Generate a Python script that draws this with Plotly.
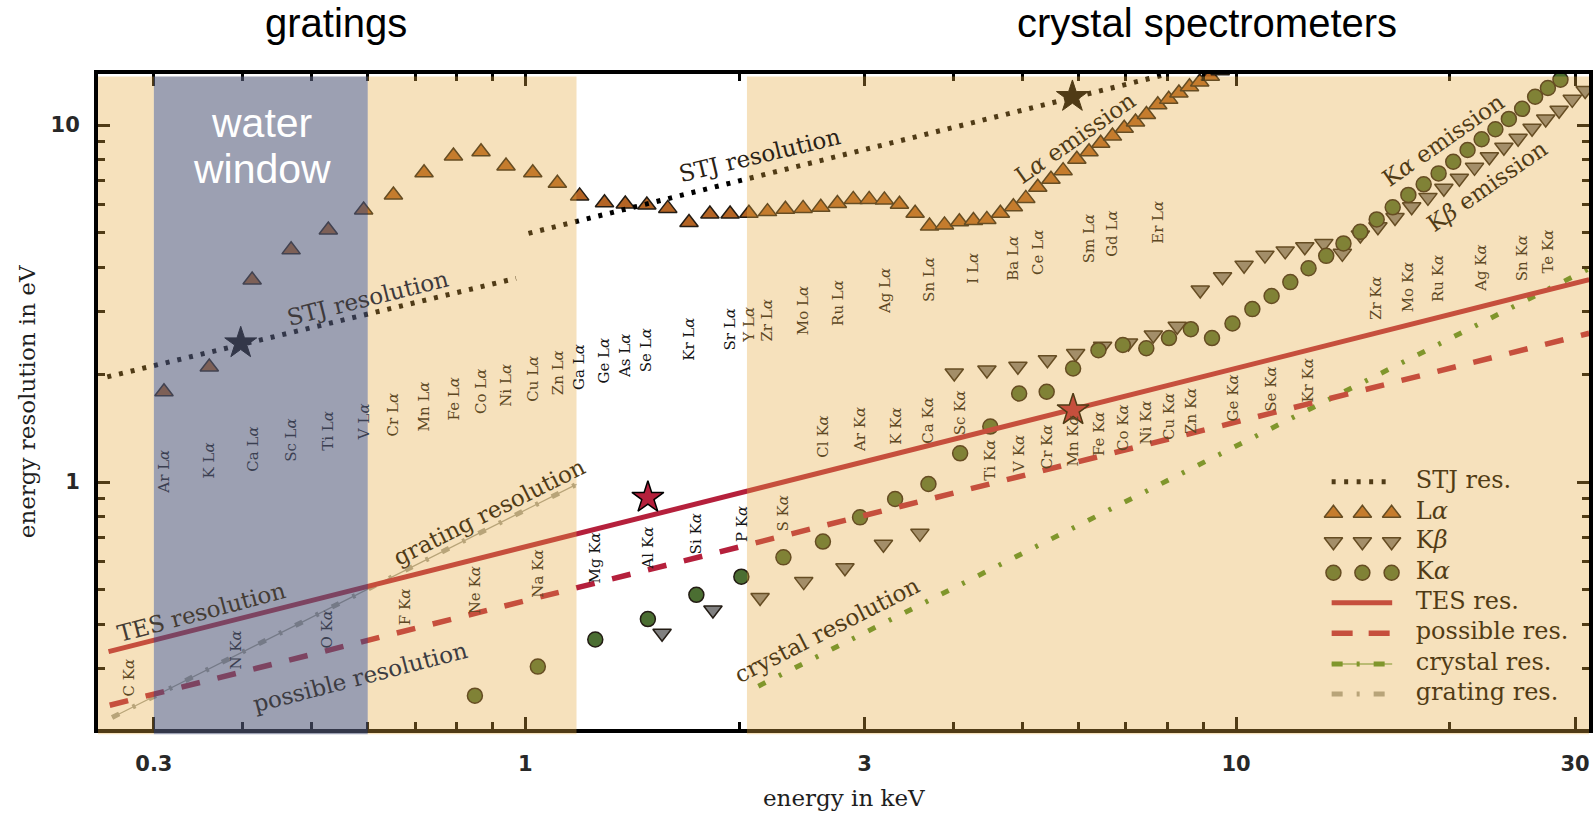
import math
import plotly.graph_objects as go

# ---------------- emission lines: energy (keV) and natural line width (eV) ----------------
la_elements = ["Ar", "K", "Ca", "Sc", "Ti", "V", "Cr", "Mn", "Fe", "Co",
               "Ni", "Cu", "Zn", "Ga", "Ge", "As", "Se", "Br", "Kr", "Rb",
               "Sr", "Y", "Zr", "Nb", "Mo", "Tc", "Ru", "Rh", "Pd", "Ag",
               "Cd", "In", "Sn", "Sb", "Te", "I", "Xe", "Cs", "Ba", "La",
               "Ce", "Pr", "Nd", "Pm", "Sm", "Eu", "Gd", "Tb", "Dy", "Ho",
               "Er", "Tm", "Yb", "Lu", "Hf", "Ta", "W"]
la_energy = [0.310, 0.359, 0.4125, 0.468, 0.528, 0.592, 0.652, 0.720, 0.792, 0.866,
             0.939, 1.024, 1.109, 1.192, 1.292, 1.382, 1.482, 1.586, 1.699, 1.818,
             1.941, 2.063, 2.191, 2.322, 2.459, 2.604, 2.748, 2.893, 3.046, 3.200,
             3.360, 3.535, 3.704, 3.888, 4.080, 4.270, 4.460, 4.660, 4.860, 5.060,
             5.260, 5.490, 5.710, 5.970, 6.210, 6.450, 6.700, 6.960, 7.220, 7.480,
             7.760, 8.040, 8.310, 8.600, 8.890, 9.200, 9.500]
la_width = [1.79, 2.10, 3.68, 4.47, 5.08, 5.78, 6.37, 7.35, 8.19, 8.42,
            7.68, 7.35, 6.87, 6.33, 6.06, 6.01, 5.97, 5.84, 5.33, 5.63,
            5.63, 5.66, 5.72, 5.81, 5.84, 5.88, 6.03, 6.19, 6.19, 6.17,
            6.00, 5.66, 5.21, 5.25, 5.36, 5.40, 5.44, 5.66, 5.90, 6.23,
            6.69, 7.05, 7.45, 8.02, 8.42, 8.89, 9.31, 9.79, 10.2, 10.7,
            11.4, 11.8, 12.3, 12.8, 13.2, 13.7, 14.2]

ka_elements = ["Ne", "Na", "Mg", "Al", "Si", "P", "S", "Cl", "Ar", "K",
               "Ca", "Sc", "Ti", "V", "Cr", "Mn", "Fe", "Co", "Ni", "Cu",
               "Zn", "Ga", "Ge", "As", "Se", "Br", "Kr", "Rb", "Sr", "Y",
               "Zr", "Nb", "Mo", "Tc", "Ru", "Rh", "Pd", "Ag", "Cd", "In",
               "Sn", "Sb", "Te", "I"]
ka_energy = [0.849, 1.041, 1.254, 1.487, 1.740, 2.013, 2.307, 2.622, 2.957, 3.313,
             3.691, 4.090, 4.510, 4.952, 5.414, 5.898, 6.403, 6.930, 7.477, 8.047,
             8.638, 9.251, 9.885, 10.543, 11.221, 11.923, 12.648, 13.394, 14.164, 14.957,
             15.774, 16.614, 17.478, 18.367, 19.278, 20.214, 21.175, 22.162, 23.172, 24.207,
             25.270, 26.357, 27.471, 28.610]
ka_width = [0.252, 0.304, 0.362, 0.413, 0.483, 0.543, 0.615, 0.681, 0.796, 0.896,
            0.987, 1.203, 1.43, 1.77, 1.79, 2.08, 2.34, 2.42, 2.37, 2.53,
            2.68, 2.53, 2.78, 3.05, 3.32, 3.63, 3.97, 4.30, 4.66, 5.02,
            5.44, 5.88, 6.37, 6.82, 7.32, 7.89, 8.51, 9.12, 9.73, 10.4,
            11.1, 12.0, 12.7, 13.4]

kb_elements = ["Al", "Si", "P", "S", "Cl", "Ar", "K", "Ca", "Sc", "Ti",
               "V", "Cr", "Mn", "Fe", "Co", "Ni", "Cu", "Zn", "Ga", "Ge",
               "As", "Se", "Br", "Kr", "Rb", "Sr", "Y", "Zr", "Nb", "Mo",
               "Tc", "Ru", "Rh", "Pd", "Ag", "Cd", "In", "Sn", "Sb", "Te"]
kb_energy = [1.557, 1.836, 2.139, 2.464, 2.816, 3.190, 3.590, 4.013, 4.461, 4.932,
             5.427, 5.947, 6.490, 7.058, 7.649, 8.265, 8.905, 9.572, 10.264, 10.982,
             11.726, 12.496, 13.291, 14.112, 14.961, 15.836, 16.738, 17.668, 18.623, 19.608,
             20.619, 21.657, 22.724, 23.819, 24.942, 26.096, 27.276, 28.486, 29.726, 30.996]
kb_width = [0.377, 0.438, 0.475, 0.526, 0.575, 0.669, 0.718, 2.02, 2.06, 2.11,
            2.20, 2.29, 2.40, 2.45, 2.58, 2.73, 3.45, 3.76, 4.05, 4.32,
            4.44, 4.56, 4.66, 4.37, 4.92, 5.19, 5.51, 5.90, 6.27, 6.65,
            7.09, 7.61, 8.15, 8.66, 9.18, 9.79, 10.4, 11.0, 11.8, 12.5]

# ---------------- detector / spectrometer resolution (eV) ----------------
stj_low_energy = [0.258, 0.97]
stj_low_res = [1.97, 3.72]
stj_high_energy = [1.01, 7.9]
stj_high_res = [4.97, 13.8]
tes_energy = [0.259, 31.4]
tes_res = [0.335, 3.69]
possible_energy = [0.26, 31.4]
possible_res = [0.237, 2.61]
crystal_energy = [2.127, 31.4]
crystal_res = [0.268, 3.96]
grating_energy = [0.262, 1.18]
grating_res = [0.219, 0.985]

# highlighted operating points
stj_star_energy = [0.3975, 5.885]
stj_star_res = [2.45, 12.0]
tes_star_energy = [1.487, 5.898]
tes_star_res = [0.904, 1.59]

# labelled lines
la_labels = ["Ar", "K", "Ca", "Sc", "Ti", "V", "Cr", "Mn", "Fe", "Co", "Ni", "Cu", "Zn",
             "Ga", "Ge", "As", "Se", "Kr", "Sr", "Y", "Zr", "Mo", "Ru", "Ag", "Sn", "I",
             "Ba", "Ce", "Sm", "Gd", "Er"]
ka_labels = ["C", "N", "O", "F", "Ne", "Na", "Mg", "Al", "Si", "P", "S", "Cl", "Ar", "K",
             "Ca", "Sc", "Ti", "V", "Cr", "Mn", "Fe", "Co", "Ni", "Cu", "Zn", "Ge", "Se",
             "Kr", "Zr", "Mo", "Ru", "Ag", "Sn", "Te"]
ka_label_energy = [0.277, 0.392, 0.525, 0.677, 0.849, 1.041, 1.254, 1.487, 1.740, 2.013,
                   2.307, 2.622, 2.957, 3.313, 3.691, 4.090, 4.510, 4.952, 5.414, 5.898,
                   6.403, 6.930, 7.477, 8.047, 8.638, 9.885, 11.221, 12.648, 15.774, 17.478,
                   19.278, 22.162, 25.270, 27.471]
ka_label_height = [0.284, 0.338, 0.385, 0.446, 0.497, 0.553, 0.612, 0.655, 0.715, 0.764,
                   0.818, 1.339, 1.398, 1.43, 1.49, 1.56, 1.15, 1.20, 1.256, 1.30,
                   1.366, 1.425, 1.47, 1.53, 1.58, 1.72, 1.82, 1.93, 3.27, 3.52,
                   3.72, 3.97, 4.24, 4.42]

# ---------------- styling ----------------
SERIF = "DejaVu Serif"
SANS = "Liberation Sans"
X_RANGE = [-0.6015, 1.4967]
Y_RANGE = [-0.6919, 1.1429]
X_LEFT, X_RIGHT = 10 ** X_RANGE[0], 10 ** X_RANGE[1]

WHEAT_RGB, WHEAT_A = (229, 169, 64), 0.35
WATER_RGB, WATER_A = (86, 93, 124), 0.59
WATER_LO, WATER_HI = 0.3, 0.6
CLEAR_LO, CLEAR_HI = 1.18, 2.05

LA_FILL = "rgb(180,100,36)"
KB_FILL = "rgb(128,128,128)"
KA_FILL = "rgb(75,110,50)"
EDGE = "rgb(35,28,20)"
TES_RED = "rgb(181,32,60)"
CRYSTAL_GREEN = "rgb(75,140,35)"
GRATING_GREY = "rgb(160,162,152)"

DOT = "4px,8px"
DASH = "19px,18px"
DASHDOT = "8px,15px,3px,15px"
MARK = 16


def tint(rgb, energy):
    """Colour of a text drawn under the shaded energy bands."""
    if WATER_LO <= energy <= WATER_HI:
        over, a = WATER_RGB, WATER_A
    elif CLEAR_LO <= energy <= CLEAR_HI:
        return "rgb(%d,%d,%d)" % rgb
    else:
        over, a = WHEAT_RGB, WHEAT_A
    return "rgb(%d,%d,%d)" % tuple(round(c * (1 - a) + o * a) for c, o in zip(rgb, over))


fig = go.Figure()

# resolution curves (thin connector + dash-dot for the grating)
fig.add_trace(go.Scatter(x=grating_energy, y=grating_res, mode="lines",
                         line=dict(color=GRATING_GREY, width=1.2)))
fig.add_trace(go.Scatter(x=grating_energy, y=grating_res, mode="lines",
                         line=dict(color=GRATING_GREY, width=5, dash=DASHDOT)))
fig.add_trace(go.Scatter(x=crystal_energy, y=crystal_res, mode="lines",
                         line=dict(color=CRYSTAL_GREEN, width=5, dash=DASHDOT)))

# emission line widths
fig.add_trace(go.Scatter(x=kb_energy, y=kb_width, mode="markers",
                         marker=dict(symbol="triangle-down", size=MARK, color=KB_FILL,
                                     line=dict(color=EDGE, width=1.5))))
fig.add_trace(go.Scatter(x=ka_energy, y=ka_width, mode="markers",
                         marker=dict(symbol="circle", size=15, color=KA_FILL,
                                     line=dict(color=EDGE, width=1.5))))
fig.add_trace(go.Scatter(x=la_energy, y=la_width, mode="markers",
                         marker=dict(symbol="triangle-up", size=MARK, color=LA_FILL,
                                     line=dict(color=EDGE, width=1.5))))

fig.add_trace(go.Scatter(x=possible_energy, y=possible_res, mode="lines",
                         line=dict(color=TES_RED, width=5.5, dash=DASH)))
fig.add_trace(go.Scatter(x=tes_energy, y=tes_res, mode="lines",
                         line=dict(color=TES_RED, width=5)))
for xs, ys in ((stj_low_energy, stj_low_res), (stj_high_energy, stj_high_res)):
    fig.add_trace(go.Scatter(x=xs, y=ys, mode="lines",
                             line=dict(color="black", width=5, dash=DOT)))

fig.add_trace(go.Scatter(x=stj_star_energy, y=stj_star_res, mode="markers",
                         marker=dict(symbol="star", size=24, color="black",
                                     line=dict(color="black", width=1))))
fig.add_trace(go.Scatter(x=tes_star_energy, y=tes_star_res, mode="markers",
                         marker=dict(symbol="star", size=24, color=TES_RED,
                                     line=dict(color="black", width=1.5))))

# ---------------- legend drawn inside the axes ----------------
leg_rows = [0.3775, 0.3293, 0.2860, 0.2386, 0.1928, 0.1461, 0.0992, 0.0534]
leg_text = ["STJ res.", "L<i>α</i>", "K<i>β</i>", "K<i>α</i>", "TES res.",
            "possible res.", "crystal res.", "grating res."]
LEG_X0, LEG_X1 = 0.8274, 0.8680
LEG_MARK_X = [0.8286, 0.8480, 0.8676]


def leg_line(row, **line):
    fig.add_trace(go.Scatter(x=[LEG_X0, LEG_X1], y=[leg_rows[row]] * 2, mode="lines",
                             line=line, xaxis="x2", yaxis="y2"))


def leg_marks(row, symbol, fill, size):
    fig.add_trace(go.Scatter(x=LEG_MARK_X, y=[leg_rows[row]] * 3, mode="markers",
                             marker=dict(symbol=symbol, size=size, color=fill,
                                         line=dict(color=EDGE, width=1.5)),
                             xaxis="x2", yaxis="y2"))


leg_line(0, color="black", width=5, dash="4px,8.5px")
leg_marks(1, "triangle-up", LA_FILL, MARK)
leg_marks(2, "triangle-down", KB_FILL, MARK)
leg_marks(3, "circle", KA_FILL, 15)
leg_line(4, color=TES_RED, width=5)
leg_line(5, color=TES_RED, width=5.5, dash="21px,16px")
leg_line(6, color=CRYSTAL_GREEN, width=1.2)
leg_line(6, color=CRYSTAL_GREEN, width=5, dash="11px,14px,3px,14px")
leg_line(7, color=GRATING_GREY, width=5, dash="11px,14px,3px,14px")
fig.add_trace(go.Scatter(x=[0.8838] * len(leg_rows), y=leg_rows, mode="text", text=leg_text,
                         textposition="middle right",
                         textfont=dict(family=SERIF, size=24, color="black"),
                         xaxis="x2", yaxis="y2"))

# ---------------- shaded energy bands (drawn over everything, like a tinted glass) ----------------
bands = [(X_LEFT, WATER_LO, WHEAT_RGB, WHEAT_A),
         (WATER_LO, WATER_HI, WATER_RGB, WATER_A),
         (WATER_HI, CLEAR_LO, WHEAT_RGB, WHEAT_A),
         (CLEAR_HI, X_RIGHT, WHEAT_RGB, WHEAT_A)]
for x0, x1, rgb, a in bands:
    fig.add_shape(type="rect", xref="x", yref="paper", x0=x0, x1=x1, y0=-0.008, y1=0.996,
                  fillcolor="rgba(%d,%d,%d,%.2f)" % (rgb + (a,)), line=dict(width=0),
                  layer="above")


# ---------------- text ----------------
def add_text(text, energy, height, angle, color, size, family=SERIF):
    fig.add_annotation(x=math.log10(energy), y=math.log10(height), xref="x", yref="y",
                       text=text, showarrow=False, textangle=angle,
                       xanchor="center", yanchor="middle",
                       font=dict(family=family, size=size, color=color))


LA_LABEL_SCALE = 1.92
for name in la_labels:
    e = la_energy[la_elements.index(name)]
    add_text("%s L<i>α</i>" % name, e, LA_LABEL_SCALE * math.sqrt(e), -90,
             tint((20, 20, 20), e), 15)
for name, e, h in zip(ka_labels, ka_label_energy, ka_label_height):
    add_text("%s K<i>α</i>" % name, e, h, -90, tint((20, 20, 20), e), 15)

BLACK = (0, 0, 0)
add_text("STJ resolution", 0.601, 3.28, -14, "rgb(62,58,60)", 23)
add_text("STJ resolution", 2.14, 8.24, -13.5, "rgb(42,34,22)", 23)
add_text("L<i>α</i> emission", 5.94, 9.20, -35, tint(BLACK, 5.94), 23)
add_text("K<i>α</i> emission", 19.57, 9.08, -35, tint(BLACK, 19.57), 23)
add_text("K<i>β</i> emission", 22.57, 6.75, -35, tint(BLACK, 22.57), 23)
add_text("TES resolution", 0.350, 0.4324, -15, "rgb(68,60,52)", 23)
add_text("grating resolution", 0.889, 0.824, -26.5, tint(BLACK, 0.889), 23)
add_text("possible resolution", 0.5855, 0.2844, -14.5, "rgb(60,60,66)", 23)
add_text("crystal resolution", 2.657, 0.385, -27, tint(BLACK, 2.657), 23)

for txt, ypx in (("water", 123), ("window", 169)):
    fig.add_annotation(x=0.1097, y=1 - (ypx - 74) / 655, xref="paper", yref="paper",
                       text=txt, showarrow=False, xanchor="center", yanchor="middle",
                       font=dict(family=SANS, size=41, color="white"))

for txt, xp in (("gratings", 0.1599), ("crystal spectrometers", 0.7438)):
    fig.add_annotation(x=xp, y=1.0779, xref="paper", yref="paper", text=txt,
                       showarrow=False, xanchor="center", yanchor="middle",
                       font=dict(family=SANS, size=40, color="black"))

fig.add_annotation(x=0.5, y=-0.1053, xref="paper", yref="paper", text="energy in keV",
                   showarrow=False, xanchor="center", yanchor="middle",
                   font=dict(family=SERIF, size=23, color="rgb(30,30,30)"))
fig.add_annotation(x=-0.0475, y=0.4992, xref="paper", yref="paper",
                   text="energy resolution in eV", textangle=-90,
                   showarrow=False, xanchor="center", yanchor="middle",
                   font=dict(family=SERIF, size=23, color="rgb(30,30,30)"))

# ---------------- axes ----------------
axis_common = dict(type="log", showline=True, linewidth=4, linecolor="black", mirror="ticks",
                   ticks="inside", ticklen=12, tickwidth=3, tickcolor="black",
                   showgrid=False, zeroline=False, tickmode="array",
                   tickfont=dict(family="DejaVu Sans", size=21, color="rgb(40,40,40)",
                                 weight="bold"),
                   minor=dict(ticks="inside", ticklen=7, tickwidth=2.5, tickcolor="black",
                              dtick="D1", showgrid=False))

fig.update_layout(
    width=1596, height=814,
    margin=dict(l=98, r=3, t=74, b=85),
    paper_bgcolor="white", plot_bgcolor="white",
    showlegend=False,
    xaxis=dict(axis_common, range=X_RANGE, tickvals=[0.3, 1, 3, 10, 30],
               ticktext=["0.3", "1", "3", "10", "30"], ticklabelstandoff=13),
    yaxis=dict(axis_common, range=Y_RANGE, tickvals=[1, 10], ticktext=["1", "10"],
               ticklabelstandoff=10),
    xaxis2=dict(overlaying="x", anchor="y2", range=[0, 1], visible=False, fixedrange=True),
    yaxis2=dict(overlaying="y", anchor="x2", range=[0, 1], visible=False, fixedrange=True),
)

fig.write_html("out.html")
